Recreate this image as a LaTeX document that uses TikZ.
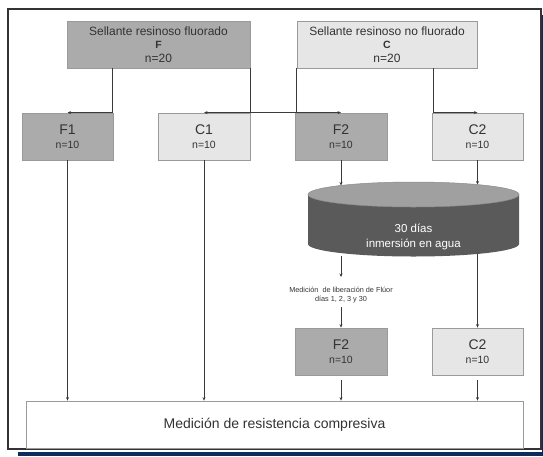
\documentclass[tikz,border=0pt]{standalone}
\usepackage{fontspec}
\setmainfont{Liberation Sans}
\usetikzlibrary{arrows.meta}
\definecolor{darkbox}{HTML}{ABABAB}
\definecolor{lightbox}{HTML}{E6E6E6}
\definecolor{boxedge}{HTML}{9A9A9A}
\definecolor{linec}{HTML}{3A3A3A}
\definecolor{cylbody}{HTML}{5A5A5A}
\definecolor{cyltop}{HTML}{A0A0A0}
\definecolor{navyc}{HTML}{0B2D5E}
\definecolor{txt}{HTML}{333333}
\newcommand\bigtxt{\fontsize{14}{14}\selectfont}
\begin{document}
\begin{tikzpicture}[x=1pt,y=-1pt,
  box/.style={draw=boxedge, line width=0.8pt, inner sep=0pt, align=center, text=txt},
  darkb/.style={box, fill=darkbox},
  lightb/.style={box, fill=lightbox},
  topbox/.style={minimum height=47pt, font=\fontsize{12}{13.5}\selectfont},
  midbox/.style={minimum width=91pt, minimum height=47pt, font=\fontsize{10.5}{13.5}\selectfont},
  conn/.style={draw=linec, line width=0.8pt, -{Stealth[length=3.5pt,width=3pt]}},
]
\useasboundingbox (0,0) rectangle (543,456);
\fill[white] (0,0) rectangle (543,456);
% frame and shadow
\fill[navyc] (541.5,15) rectangle (543,456);
\fill[navyc] (18,451.5) rectangle (543,456);
\draw[line width=1.4pt, draw=black!80] (8,9) rectangle (541,449);

% top boxes
\node[darkb, topbox, minimum width=183pt] (Ft) at (158.5,44.5)
  {Sellante resinoso fluorado\\ {\bfseries\fontsize{10.5}{13.5}\selectfont F}\\ n=20};
\node[lightb, topbox, minimum width=180pt] (Ct) at (387,44.5)
  {Sellante resinoso no fluorado\\ {\bfseries\fontsize{10.5}{13.5}\selectfont C}\\ n=20};

% second row
\node[darkb, midbox] (F1) at (67.5,136.5) {{\bigtxt F1}\\ n=10};
\node[lightb, midbox, minimum width=92pt] (C1) at (204,136.5) {{\bigtxt C1}\\ n=10};
\node[darkb, midbox, minimum width=92pt] (F2) at (341,136.5) {{\bigtxt F2}\\ n=10};
\node[lightb, midbox] (C2) at (477.5,136.5) {{\bigtxt C2}\\ n=10};

% cylinder
\fill[cylbody] (308,194.5) -- (308,244) arc[start angle=180, end angle=0, x radius=105.5, y radius=12.5] -- (519,194.5) -- cycle;
\draw[fill=cyltop, draw=black!45, line width=0.5pt] (413.5,194.5) ellipse[x radius=105.5, y radius=12.5];
\node[align=center, text=white, font=\fontsize{11.5}{14.5}\selectfont] (cyl) at (413.5,237) {30 días\\ inmersión en agua};
\coordinate (cylFt) at (341,185.5);
\coordinate (cylCt) at (477.5,184.5);
\coordinate (cylFb) at (341,256);
\coordinate (cylCb) at (477.5,254);

% measurement label
\node[align=center, text=txt, font=\fontsize{7.3}{9}\selectfont] (mlab) at (341,295)
  {Medición\ \ de liberación de Flúor\\ días 1, 2, 3 y 30};
\coordinate (mTop) at (341,277);
\coordinate (mBot) at (341,307);

% lower row
\node[darkb, midbox, minimum width=92pt] (F2b) at (341,351.5) {{\bigtxt F2}\\ n=10};
\node[lightb, midbox] (C2b) at (477.5,351.5) {{\bigtxt C2}\\ n=10};

% bottom box
\node[box, fill=white, minimum width=497pt, minimum height=47pt, font=\fontsize{14}{16}\selectfont] (bot) at (274.5,424.5)
  {Medición de resistencia compresiva};

% connectors top -> second row
\draw[conn] ([xshift=46pt]Ft.south west) |- (F1.north);
\draw[conn] (Ft.south east) |- (F2.north);
\draw[conn] (Ct.south west) |- (C1.north);
\draw[conn] ([xshift=-44pt]Ct.south east) |- (C2.north);

% second row -> cylinder / bottom
\draw[conn] (F2.south) -- (cylFt);
\draw[conn] (C2.south) -- (cylCt);
\draw[conn] (F1.south) -- (F1.south |- bot.north);
\draw[conn] (C1.south) -- (C1.south |- bot.north);

% cylinder -> label -> F2b
\draw[conn] (cylFb) -- (mTop);
\draw[conn] (mBot) -- (F2b.north);
\draw[conn] (cylCb) -- (C2b.north);

% lower row -> bottom
\draw[conn, shorten <=5pt] (F2b.south) -- (F2b.south |- bot.north);
\draw[conn, shorten <=5pt] (C2b.south) -- (C2b.south |- bot.north);
\end{tikzpicture}
\end{document}
